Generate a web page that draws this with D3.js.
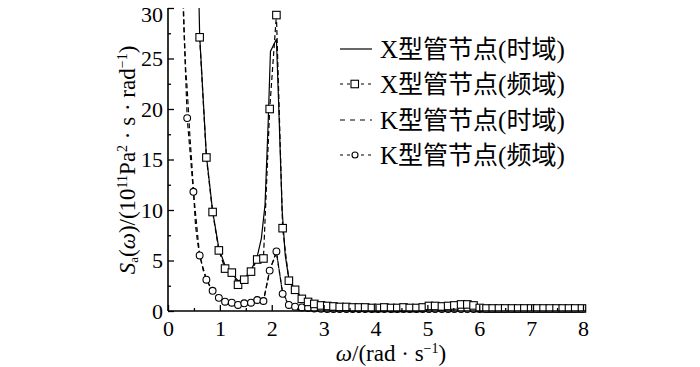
<!DOCTYPE html>
<html><head><meta charset="utf-8">
<script src="https://cdn.jsdelivr.net/npm/d3@7"></script>
<style>
html,body{margin:0;padding:0;background:#fff;}
svg{display:block;}
text{font-family:"Liberation Serif","Noto Sans CJK SC",serif;fill:#000;}
</style></head>
<body>
<script>
// ---------- data ----------
const omegaGrid = [0.25,0.37,0.49,0.61,0.74,0.86,0.98,1.10,1.23,1.35,1.47,1.60,1.72,1.84,1.96,2.09,2.21,2.33,2.45,2.58,2.70,2.82,2.95,3.07,3.19,3.31,3.44,3.56,3.68,3.80,3.93,4.05,4.17,4.30,4.42,4.54,4.66,4.79,4.91,5.03,5.15,5.28,5.40,5.52,5.65,5.77,5.89,6.01,6.14,6.26,6.38,6.50,6.63,6.75,6.87,7.00,7.12,7.24,7.36,7.49,7.61,7.73,7.85,7.98];
// X-joint, frequency domain (squares), from grid index 3 (omega 0.61)
const xFreqOmega = omegaGrid.slice(3);
const xFreqValues = [27.1,15.2,9.8,6.0,4.2,3.8,2.6,3.1,3.9,5.1,5.2,20.0,29.3,8.2,3.0,2.1,1.2,0.9,0.7,0.55,0.5,0.45,0.4,0.4,0.35,0.35,0.35,0.3,0.3,0.35,0.3,0.3,0.35,0.3,0.3,0.35,0.5,0.5,0.45,0.5,0.55,0.65,0.65,0.55,0.3,0.25,0.25,0.25,0.25,0.25,0.25,0.25,0.25,0.25,0.25,0.25,0.25,0.25,0.25,0.25,0.25];
// K-joint, frequency domain (circles), from grid index 0
const kFreqOmega = omegaGrid;
const kFreqValues = [36,19.1,11.8,5.5,3.1,2.0,1.3,0.92,0.82,0.6,0.76,0.82,1.09,0.99,4.0,5.9,1.7,0.6,0.43,0.35,0.3,0.25,0.22,0.2,0.2,0.2,0.2,0.2,0.2,0.2,0.2,0.2,0.2,0.2,0.2,0.2,0.2,0.2,0.2,0.2,0.2,0.2,0.2,0.2,0.2,0.2,0.2,0.2,0.2,0.2,0.2,0.2,0.2,0.2,0.2,0.2,0.2,0.2,0.2,0.2,0.2,0.2,0.2,0.2];
// X-joint, time domain (solid line)
const xTimeOmega = [0.49,0.61,0.74,0.86,0.98,1.10,1.23,1.35,1.47,1.60,1.72,1.80,1.87,1.93,1.975,2.09,2.13,2.20,2.26,2.33,2.45,2.58,2.70,2.82,3.0,3.5,4.0,4.5,4.9,5.2,5.6,5.9,6.1,7.0,8.0];
const xTimeValues = [58,27.3,15.4,9.9,6.2,4.5,3.7,3.0,3.2,4.0,5.4,7.2,10.5,18.5,25.7,26.9,21,10,5.5,3.2,2.1,1.3,1.0,0.75,0.55,0.4,0.35,0.35,0.4,0.55,0.65,0.55,0.3,0.25,0.25];
// K-joint, time domain (dashed line)
const kTimeOmega = [0.27,0.31,0.34,0.37,0.39,0.42,0.46,0.49,0.53,0.57,0.61,0.68,0.74,0.80,0.86,0.92,0.98,1.10,1.23,1.35,1.47,1.60,1.72,1.84,1.96,2.09,2.21,2.33,2.45,2.6,3.0,8.0];
const kTimeValues = [36,28,24,22,20.2,17.5,14.5,12.0,8.5,6.8,5.6,4.0,3.2,2.5,2.0,1.6,1.3,0.95,0.8,0.65,0.75,0.85,1.05,1.0,4.0,5.8,1.8,0.65,0.45,0.35,0.25,0.2];

const xTicks = [0,1,2,3,4,5,6,7,8];
const xMinorTicks = [0.5,1.5,2.5,3.5,4.5,5.5,6.5,7.5];
const yTicks = [0,5,10,15,20,25,30];
const yMinorTicks = [2.5,7.5,12.5,17.5,22.5,27.5];
const legendLabels = ["X型管节点(时域)","X型管节点(频域)","K型管节点(时域)","K型管节点(频域)"];

// ---------- chart ----------
const W = 700, H = 367;
const svg = d3.select("body").append("svg").attr("width", W).attr("height", H);
const x = d3.scaleLinear().domain([0, 8]).range([168, 583]);
const y = d3.scaleLinear().domain([0, 30]).range([311, 8]);

svg.append("clipPath").attr("id","clip").append("rect")
  .attr("x", 168).attr("y", 8).attr("width", 425).attr("height", 306);

const plot = svg.append("g").attr("clip-path","url(#clip)");
const line = d3.line().x(d => x(d[0])).y(d => y(d[1]));
const zip = (a, b) => a.map((v, i) => [v, b[i]]);

const xTime = zip(xTimeOmega, xTimeValues);
const kTime = zip(kTimeOmega, kTimeValues);
const xFreq = zip(xFreqOmega, xFreqValues);
const kFreq = zip(kFreqOmega, kFreqValues);

const dash = "5,3";
plot.append("path").attr("d", line(kTime)).attr("fill","none").attr("stroke","#000").attr("stroke-width",1.2).attr("stroke-dasharray",dash);
plot.append("path").attr("d", line(kFreq)).attr("fill","none").attr("stroke","#000").attr("stroke-width",1.2).attr("stroke-dasharray",dash);
plot.append("path").attr("d", line(xFreq)).attr("fill","none").attr("stroke","#000").attr("stroke-width",1.2).attr("stroke-dasharray",dash);
plot.append("path").attr("d", line(xTime)).attr("fill","none").attr("stroke","#000").attr("stroke-width",1.2);

const sq = 7.5, cr = 3.4;
plot.selectAll("circle.k").data(kFreq).enter().append("circle")
  .attr("cx", d => x(d[0])).attr("cy", d => y(d[1])).attr("r", cr)
  .attr("fill","#fff").attr("stroke","#000").attr("stroke-width",1.1);
plot.selectAll("rect.xs").data(xFreq).enter().append("rect")
  .attr("x", d => x(d[0]) - sq/2).attr("y", d => y(d[1]) - sq/2)
  .attr("width", sq).attr("height", sq)
  .attr("fill","#fff").attr("stroke","#000").attr("stroke-width",1.1);

// axes
const fs = "22px";
const yAxis = svg.append("g").attr("transform","translate(168,0)")
  .call(d3.axisLeft(y).tickValues(yTicks).tickSize(-6).tickSizeOuter(0).tickPadding(5));
svg.append("g").attr("transform","translate(168,0)")
  .call(d3.axisLeft(y).tickValues(yMinorTicks).tickSize(-3).tickSizeOuter(0).tickFormat(""))
  .select(".domain").remove();
const xAxis = svg.append("g").attr("transform","translate(0,311)")
  .call(d3.axisBottom(x).tickValues(xTicks).tickSize(-6).tickSizeOuter(0).tickPadding(9));
svg.append("g").attr("transform","translate(0,311)")
  .call(d3.axisBottom(x).tickValues(xMinorTicks).tickSize(-3).tickSizeOuter(0).tickFormat(""))
  .select(".domain").remove();
svg.selectAll(".domain").attr("stroke-width",1.6);
svg.selectAll(".tick line").attr("stroke-width",1.3);
svg.selectAll(".tick text").attr("font-size", fs).attr("font-family",'"Liberation Serif",serif');
// keep the top label "30" inside the picture
yAxis.selectAll(".tick text").filter(d => d === 30).attr("dy", "0.62em");
yAxis.select(".domain").attr("d","M0,311V8");
xAxis.select(".domain").attr("d","M168,0H586");

// x label
const xl = svg.append("text").attr("x", 391).attr("y", 361).attr("text-anchor","middle").attr("font-size","23px");
xl.append("tspan").attr("font-style","italic").text("ω");
xl.append("tspan").text("/(rad · s");
xl.append("tspan").attr("font-size","14px").attr("baseline-shift","60%").text("−1");
xl.append("tspan").text(")");

// y label
const yl = svg.append("text").attr("transform","translate(135,160) rotate(-90)")
  .attr("text-anchor","middle").attr("font-size","23px");
yl.append("tspan").attr("font-style","italic").text("S");
yl.append("tspan").attr("font-size","13px").attr("baseline-shift","-25%").text("a");
yl.append("tspan").text("(");
yl.append("tspan").attr("font-style","italic").text("ω");
yl.append("tspan").text(")/(10");
yl.append("tspan").attr("font-size","14px").attr("baseline-shift","60%").text("11");
yl.append("tspan").text("Pa");
yl.append("tspan").attr("font-size","14px").attr("baseline-shift","60%").text("2");
yl.append("tspan").text(" · s · rad");
yl.append("tspan").attr("font-size","14px").attr("baseline-shift","60%").text("−1");
yl.append("tspan").text(")");

// legend
const legY = [49, 84, 120, 155];
const leg = svg.append("g");
legendLabels.forEach((lab, i) => {
  const g = leg.append("g").attr("transform", `translate(0,${legY[i]})`);
  const l = g.append("line").attr("x1", 340).attr("x2", 372).attr("y1", 0).attr("y2", 0)
    .attr("stroke","#000").attr("stroke-width",1.2);
  if (i > 0) l.attr("stroke-dasharray", i === 2 ? "5,5" : "3,4");
  if (i === 1) g.append("rect").attr("x", 351).attr("y", -3.75).attr("width", 7.5).attr("height", 7.5)
    .attr("fill","#fff").attr("stroke","#000").attr("stroke-width",1.1);
  if (i === 3) g.append("circle").attr("cx", 355).attr("cy", 0).attr("r", 3)
    .attr("fill","#fff").attr("stroke","#000").attr("stroke-width",1.1);
  g.append("text").attr("x", 380).attr("y", 0).attr("dy","0.35em").attr("font-size","25px").text(lab);
});
</script>
</body></html>
